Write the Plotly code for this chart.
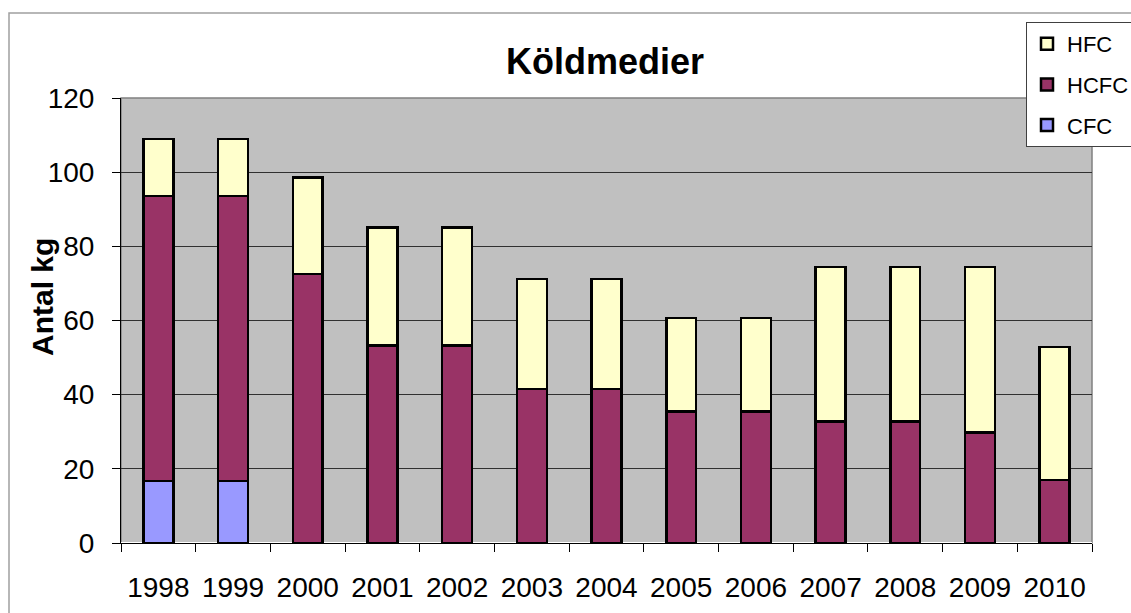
import plotly.graph_objects as go

years = ["1998", "1999", "2000", "2001", "2002", "2003", "2004",
         "2005", "2006", "2007", "2008", "2009", "2010"]
cfc = [16.7, 16.7, 0, 0, 0, 0, 0, 0, 0, 0, 0, 0, 0]
hcfc = [76.9, 76.9, 72.5, 53.2, 53.2, 41.5, 41.5, 35.4, 35.4, 32.7, 32.7, 29.8, 17.0]
hfc = [15.4, 15.4, 26.0, 31.9, 31.9, 29.7, 29.7, 25.3, 25.3, 41.7, 41.7, 44.6, 35.8]
y_ticks = [0, 20, 40, 60, 80, 100, 120]

font = "Liberation Sans, Arial, sans-serif"
L, R, T, B = 121, 1092, 98, 543
W, H = 1131, 613
pw, ph = R - L, B - T

fig = go.Figure()
for name, vals, col, rank in [("CFC", cfc, "#9999FF", 3), ("HCFC", hcfc, "#993366", 2),
                              ("HFC", hfc, "#FFFFCC", 1)]:
    fig.add_trace(go.Bar(
        x=years, y=vals, name=name, legendgroup=name, legendrank=rank,
        marker=dict(color=col, line=dict(color="black", width=2.5)),
    ))

fig.update_layout(
    barmode="stack",
    bargap=0.6,
    width=W, height=H,
    margin=dict(l=L, r=W - R, t=T, b=H - B, autoexpand=False),
    paper_bgcolor="white",
    plot_bgcolor="#C0C0C0",
    font=dict(family=font, color="black"),
    title=dict(text="<b>Köldmedier</b>", x=605 / W, xanchor="center",
               y=1 - 61 / H, yanchor="middle", font=dict(size=36, family=font)),
    showlegend=True,
    legend=dict(
        x=(1026 - L) / pw, y=(B - 22) / ph, xanchor="left", yanchor="top",
        traceorder="grouped", tracegroupgap=9,
        bgcolor="white", bordercolor="#404040", borderwidth=1,
        font=dict(size=22, family=font), itemwidth=30,
    ),
    xaxis=dict(
        showgrid=False, showline=True, linecolor="black", linewidth=1,
        ticks="outside", tickson="boundaries", ticklen=8, tickcolor="black",
        tickfont=dict(size=28, family=font), range=[-0.5, 12.5],
        ticklabelstandoff=19,
    ),
    yaxis=dict(
        range=[0, 120], tickvals=y_ticks, showgrid=True, gridcolor="#303030", gridwidth=1,
        showline=True, linecolor="black", linewidth=1,
        ticks="outside", ticklen=8, tickcolor="black",
        tickfont=dict(size=28, family=font), ticklabelstandoff=12,
    ),
    annotations=[
        dict(text="<b>Antal kg</b>", xref="paper", yref="paper",
             x=(42 - L) / pw, y=(B - 297) / ph, xanchor="center", yanchor="middle",
             textangle=-90, showarrow=False, font=dict(size=30, family=font)),
    ],
    shapes=[
        dict(type="rect", xref="paper", yref="paper", x0=0, x1=1, y0=0, y1=1,
             line=dict(color="#808080", width=1.5), layer="below"),
        dict(type="rect", xref="paper", yref="paper",
             x0=(9 - L) / pw, x1=1.1, y0=-0.3, y1=(B - 13) / ph,
             line=dict(color="#A0A0A0", width=1.5), layer="below"),
    ],
)

fig.write_html("out.html", config={"displayModeBar": False},
               post_script="document.body.style.margin='0';document.body.style.overflow='hidden';")
